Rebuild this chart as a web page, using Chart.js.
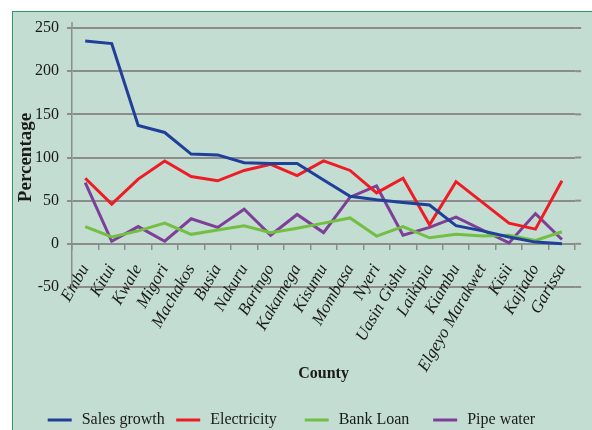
<!DOCTYPE html>
<html>
<head>
<meta charset="utf-8">
<script src="https://cdn.jsdelivr.net/npm/chart.js@4.4.1/dist/chart.umd.min.js"></script>
<style>
  html, body { margin: 0; padding: 0; background: #ffffff; }
  #wrap { position: relative; width: 592px; height: 430px; overflow: hidden; }
  #bg { position: absolute; left: 12px; top: 11px; width: 620px; height: 460px;
        background: #c3ddd2; border: 1.5px solid #2b9a6b; box-sizing: border-box; }
  #c { position: absolute; left: 0; top: 0; }
</style>
</head>
<body>
<div id="wrap">
  <div id="bg"></div>
  <canvas id="c" width="592" height="430"></canvas>
</div>
<script>
const counties = ["Embu", "Kitui", "Kwale", "Migori", "Machakos", "Busia", "Nakuru", "Baringo",
  "Kakamega", "Kisumu", "Mombasa", "Nyeri", "Uasin Gishu", "Laikipia", "Kiambu",
  "Elgeyo Marakwet", "Kisii", "Kajiado", "Garissa"];
const salesGrowth = [235, 232, 137, 129, 104, 103, 94, 93, 93, 74, 55, 51, 48, 45, 21, 15, 8, 2, 0];
const electricity = [76, 46, 75, 96, 78, 73, 85, 92, 79, 96, 85, 59, 76, 22, 72, 48, 24, 17, 73];
const bankLoan = [20, 8, 15, 24, 11, 16, 21, 13, 18, 24, 30, 9, 20, 7, 11, 9, 10, 4, 14];
const pipeWater = [71, 3, 20, 3, 29, 19, 40, 10, 34, 13, 54, 67, 10, 19, 31, 16, 1, 35, 5];
const yTicks = [-50, 0, 50, 100, 150, 200, 250];

const GRID = '#8c8c8c';
const SERIF = '"Liberation Serif", "DejaVu Serif", serif';

const gridExtend = {
  id: 'gridExtend',
  beforeDatasetsDraw(chart) {
    const ctx = chart.ctx, ys = chart.scales.y, ca = chart.chartArea;
    ctx.save();
    ctx.strokeStyle = GRID;
    ctx.lineWidth = 2;
    ys.ticks.forEach((t, i) => {
      const y = ys.getPixelForTick(i);
      ctx.beginPath();
      ctx.moveTo(ca.right, y);
      ctx.lineTo(ca.right + 6, y);
      ctx.stroke();
    });
    // y axis line extends a little above the top gridline
    ctx.lineWidth = 1.5;
    ctx.beginPath();
    ctx.moveTo(ca.left, ca.top);
    ctx.lineTo(ca.left, ca.top - 6);
    ctx.stroke();
    ctx.restore();
  }
};

const customLegend = {
  id: 'customLegend',
  afterDraw(chart) {
    const ctx = chart.ctx;
    ctx.save();
    ctx.font = '16px ' + SERIF;
    ctx.textBaseline = 'middle';
    ctx.textAlign = 'left';
    chart.data.datasets.forEach((ds, i) => {
      const x0 = 47.7 + 128.5 * i;
      const y = 420;
      ctx.strokeStyle = ds.borderColor;
      ctx.lineWidth = 3;
      ctx.beginPath();
      ctx.moveTo(x0, y);
      ctx.lineTo(x0 + 24, y);
      ctx.stroke();
      ctx.fillStyle = '#1a1a1a';
      ctx.fillText(ds.label, x0 + 34, y);
    });
    ctx.restore();
  }
};

new Chart(document.getElementById('c'), {
  type: 'line',
  data: {
    labels: counties,
    datasets: [
      { label: 'Sales growth', data: salesGrowth, borderColor: '#1f3f99' },
      { label: 'Electricity', data: electricity, borderColor: '#ee1c25' },
      { label: 'Bank Loan', data: bankLoan, borderColor: '#72bf44' },
      { label: 'Pipe water', data: pipeWater, borderColor: '#7d3f98' }
    ]
  },
  options: {
    responsive: false,
    animation: false,
    devicePixelRatio: 1,
    layout: { padding: { left: 0, top: 28, right: 15, bottom: 143 } },
    elements: {
      line: { borderWidth: 3, tension: 0, fill: false },
      point: { radius: 0, hoverRadius: 0 }
    },
    plugins: {
      legend: { display: false },
      tooltip: { enabled: false },
      title: { display: false }
    },
    scales: {
      x: {
        type: 'category',
        position: { y: 0 },
        offset: true,
        grid: { display: true, drawOnChartArea: false, drawTicks: true, tickLength: 5,
                color: GRID, lineWidth: 1.5, offset: true },
        border: { display: true, color: GRID, width: 2 },
        ticks: { autoSkip: false, minRotation: 60, maxRotation: 60, padding: 12,
                 color: '#1a1a1a', font: { family: SERIF, size: 17, style: 'italic' } },
        title: { display: true, text: 'County', color: '#1a1a1a', padding: 0,
                 font: { family: SERIF, size: 16, weight: 'bold' } },
        afterFit(scale) { scale.height = 140; }
      },
      y: {
        min: -50, max: 250,
        afterBuildTicks(scale) { scale.ticks = yTicks.map(v => ({ value: v })); },
        grid: { color: GRID, lineWidth: 2, drawTicks: true, tickLength: 5, tickColor: GRID },
        border: { display: true, color: GRID, width: 1.5 },
        ticks: { padding: 8, color: '#1a1a1a', font: { family: SERIF, size: 16 } },
        title: { display: true, text: 'Percentage', color: '#1a1a1a',
                 padding: { top: 15, bottom: 0 },
                 font: { family: SERIF, size: 19, weight: 'bold' } },
        afterFit(scale) { scale.width = 72; }
      }
    }
  },
  plugins: [gridExtend, customLegend]
});
</script>
</body>
</html>
